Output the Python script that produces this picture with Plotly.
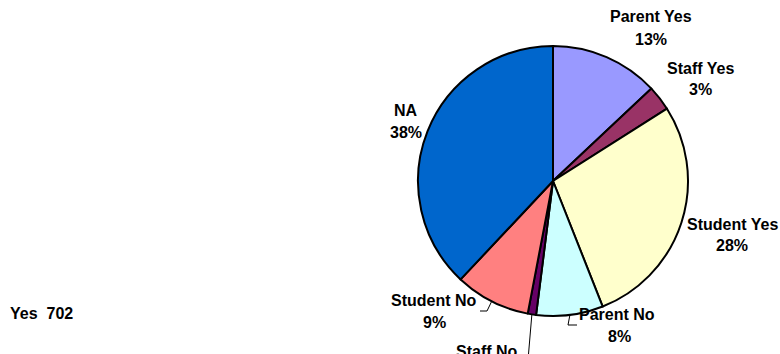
import math
import plotly.graph_objects as go

# Survey responses by group (percent of all responses)
labels = ["Parent Yes", "Staff Yes", "Student Yes", "Parent No", "Staff No", "Student No", "NA"]
shares = [13, 3, 28, 8, 1, 9, 38]
colors = ["#9999FF", "#993366", "#FFFFCC", "#CCFFFF", "#660066", "#FF8080", "#0066CC"]
yes_total = 702

# Canvas and pie geometry (pixels)
W, H = 780, 354
CX, CY, R = 553, 181, 135

# Label line centres (name line, percent line), pixels
label_pos = {
    "Parent Yes": ((651, 17), (651, 39)),
    "Staff Yes": ((700, 68), (700, 89)),
    "Student Yes": ((732, 224), (732, 245)),
    "Parent No": ((617, 314), (619, 336)),
    "Staff No": ((487, 351), (487, 373)),
    "Student No": ((434, 300), (434, 322)),
    "NA": ((406, 110), (406, 132)),
}

# Elbow leader lines: (knee point, end point) in pixels
leaders = {
    "Student No": ((487, 311), (480, 311)),
    "Parent No": ((568, 325), (577, 325)),
    "Staff No": ((528, 360), (528, 362)),
}

FONT = "Liberation Sans, Arial, sans-serif"
FONT_SIZE = 16


def px(x):
    return x / W


def py(y):
    return 1 - y / H


fig = go.Figure(
    go.Pie(
        labels=labels,
        values=shares,
        sort=False,
        direction="clockwise",
        rotation=0,
        textinfo="none",
        hoverinfo="label+percent",
        marker=dict(colors=colors, line=dict(color="#000000", width=2)),
        domain=dict(x=[px(CX - R), px(CX + R)], y=[py(CY + R), py(CY - R)]),
        showlegend=False,
    )
)

annotations = []
for name, share in zip(labels, shares):
    (nx, ny), (sx, sy) = label_pos[name]
    for text, x, y in ((name, nx, ny), (f"{share}%", sx, sy)):
        annotations.append(dict(
            x=px(x), y=py(y), xref="paper", yref="paper",
            text=f"<b>{text}</b>", showarrow=False,
            xanchor="center", yanchor="middle",
            font=dict(family=FONT, size=FONT_SIZE, color="#000000"),
        ))

annotations.append(dict(
    x=px(8), y=py(313), xref="paper", yref="paper",
    text=f"<b>Yes\u00a0\u00a0{yes_total}</b>", showarrow=False,
    xanchor="left", yanchor="middle",
    font=dict(family=FONT, size=FONT_SIZE, color="#000000"),
))

# Leader lines start on the rim at each slice's mid-angle
shapes = []
total = sum(shares)
cum = 0
for name, share in zip(labels, shares):
    mid = (cum + share / 2) / total * 2 * math.pi
    cum += share
    if name not in leaders:
        continue
    x0 = CX + R * math.sin(mid)
    y0 = CY - R * math.cos(mid)
    (kx, ky), (ex, ey) = leaders[name]
    path = f"M {px(x0)} {py(y0)} L {px(kx)} {py(ky)} L {px(ex)} {py(ey)}"
    shapes.append(dict(type="path", xref="paper", yref="paper", path=path,
                       line=dict(color="#000000", width=1)))

fig.update_layout(
    width=W, height=H,
    margin=dict(l=0, r=0, t=0, b=0),
    paper_bgcolor="#FFFFFF",
    plot_bgcolor="#FFFFFF",
    annotations=annotations,
    shapes=shapes,
)

fig.write_html("out.html")
